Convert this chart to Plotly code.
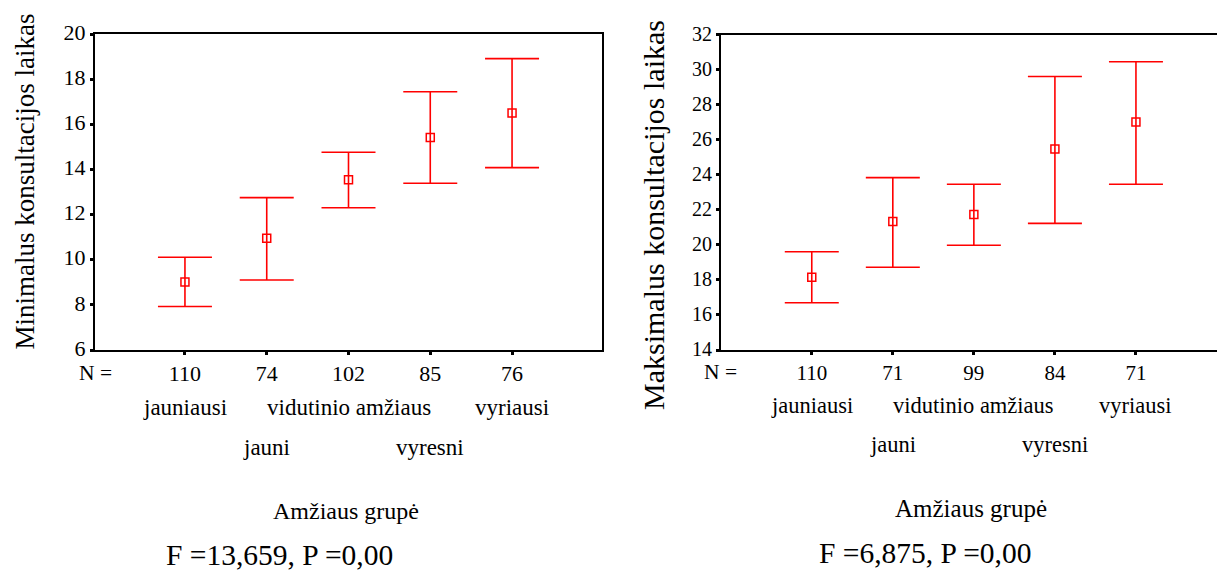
import plotly.graph_objects as go

W, H = 1217, 570

positions = [1, 2, 3, 4, 5]
group_labels = ["jauniausi", "jauni", "vidutinio amžiaus", "vyresni", "vyriausi"]

left_n = ["110", "74", "102", "85", "76"]
left_mean = [9.01, 10.95, 13.54, 15.42, 16.50]
left_upper = [10.11, 12.75, 14.76, 17.44, 18.91]
left_lower = [7.93, 9.10, 12.30, 13.39, 14.08]

right_n = ["110", "71", "99", "84", "71"]
right_mean = [18.15, 21.33, 21.73, 25.48, 27.02]
right_upper = [19.61, 23.84, 23.46, 29.61, 30.46]
right_lower = [16.70, 18.72, 19.98, 21.23, 23.46]

left_ytitle = "Minimalus konsultacijos laikas"
right_ytitle = "Maksimalus konsultacijos laikas"
xtitle = "Amžiaus grupė"
left_stat = "F =13,659, P =0,00"
right_stat = "F =6,875, P =0,00"

FONT = "Liberation Serif"
RED = "#ff0000"


def px_x(v):
    return v / W


def px_y(v):
    return 1 - v / H


fig = go.Figure()


def add_series(mean, upper, lower, xa, ya):
    fig.add_trace(go.Scatter(
        x=positions, y=mean, mode="markers", xaxis=xa, yaxis=ya,
        marker=dict(symbol="square-open", size=8, color=RED, line=dict(width=1.5, color=RED)),
        error_y=dict(type="data", symmetric=False,
                     array=[u - m for u, m in zip(upper, mean)],
                     arrayminus=[m - l for m, l in zip(mean, lower)],
                     color=RED, thickness=1.6, width=27),
        showlegend=False, hoverinfo="skip",
    ))


add_series(left_mean, left_upper, left_lower, "x", "y")
add_series(right_mean, right_upper, right_lower, "x2", "y2")

axis_common = dict(showgrid=False, zeroline=False, showline=True, linecolor="black",
                   linewidth=2, ticks="outside", ticklen=3, tickwidth=3, tickcolor="black",
                   automargin=False)

fig.update_layout(
    width=W, height=H, autosize=False,
    margin=dict(l=0, r=0, t=0, b=0, pad=0),
    paper_bgcolor="white", plot_bgcolor="white",
    font=dict(family=FONT, color="black"),
    xaxis=dict(domain=[px_x(95), px_x(602)], range=[-0.1, 6.1], anchor="y",
               tickmode="array", tickvals=positions, ticktext=left_n, mirror=True,
               tickfont=dict(size=22, family=FONT), **axis_common),
    yaxis=dict(domain=[px_y(350), px_y(34)], range=[6, 20], dtick=2, anchor="x",
               mirror=True, tickfont=dict(size=22, family=FONT), ticklabelshift=-2,
               **axis_common),
    xaxis2=dict(domain=[px_x(721), 1.0], range=[-0.12, 6.0], anchor="y2",
                tickmode="array", tickvals=positions, ticktext=right_n, mirror=True,
                tickfont=dict(size=21, family=FONT), **axis_common),
    yaxis2=dict(domain=[px_y(350), px_y(34.7)], range=[14, 32], dtick=2, anchor="x2",
                mirror=False, tickfont=dict(size=20, family=FONT), ticklabelshift=-1,
                **axis_common),
)

ann = []


def text(x, y, s, size, xref="paper", angle=0):
    ann.append(dict(x=x, y=y, xref=xref, yref="paper", text=s, showarrow=False,
                    xanchor="center", yanchor="middle", textangle=angle, borderpad=0,
                    font=dict(size=size, family=FONT, color="black")))


# y-axis titles
text(px_x(24), px_y(181.5), left_ytitle, 27, angle=-90)
text(px_x(653), px_y(215), right_ytitle, 30, angle=-90)

# N = labels
text(px_x(95), px_y(372.5), "N =", 21.5)
text(px_x(720.5), px_y(372), "N =", 21.5)

# group labels in two staggered rows
for i, (p, lab) in enumerate(zip(positions, group_labels)):
    row_left = 407 if i % 2 == 0 else 447
    row_right = 405 if i % 2 == 0 else 444
    text(p, px_y(row_left), lab, 23, xref="x")
    text(p, px_y(row_right), lab, 22.5, xref="x2")

# x titles
text(px_x(346), px_y(511), xtitle, 24)
text(px_x(971), px_y(508.5), xtitle, 25)

# stats
text(px_x(279.5), px_y(554.5), left_stat, 29.5)
text(px_x(925), px_y(552.5), right_stat, 29.5)

fig.update_layout(annotations=ann)

fig.write_html("out.html")
